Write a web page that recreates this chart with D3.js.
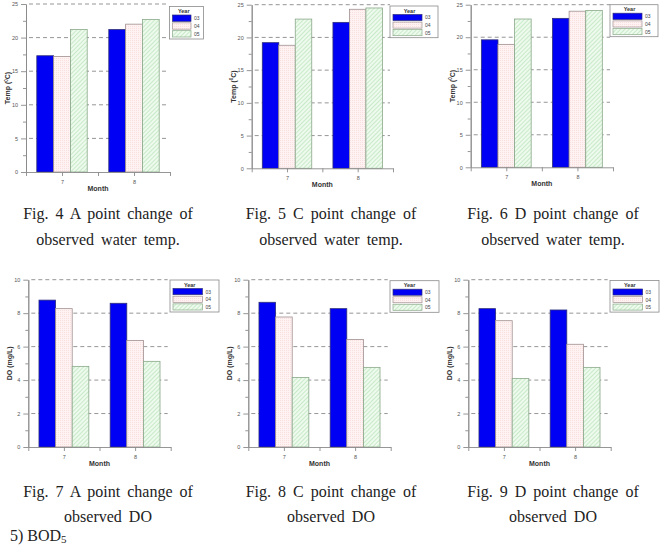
<!DOCTYPE html>
<html>
<head>
<meta charset="utf-8">
<script src="https://cdn.jsdelivr.net/npm/d3@7"></script>
<style>
  body { margin: 0; background: #fff; }
  svg { display: block; }
  .tick text { fill: #555; font-family: "Liberation Sans", Arial, sans-serif; }
  .cap { font-family: "Liberation Serif", "Times New Roman", serif; font-size: 16px; fill: #222; }
</style>
</head>
<body>
<div id="chart"></div>
<script>
// data (month 7 and 8, years 03/04/05)
var months = [7, 8]
var years = ["03", "04", "05"]

var tempA = [[17.3, 17.2, 21.2], [21.2, 22.0, 22.7]]
var tempC = [[19.2, 18.8, 22.8], [22.3, 24.3, 24.5]]
var tempD = [[19.6, 18.9, 22.8], [22.9, 24.0, 24.1]]

var doA = [[8.78, 8.27, 4.82], [8.59, 6.37, 5.12]]
var doC = [[8.65, 7.77, 4.16], [8.27, 6.43, 4.76]]
var doD = [[8.27, 7.55, 4.10], [8.19, 6.14, 4.76]]

var tempTicks = [0, 5, 10, 15, 20, 25]
var doTicks = [0, 2, 4, 6, 8, 10]
var monthTicks = [6.5, 7, 7.5, 8, 8.5]

var captionTop = ["Fig. 4 A point change of", "Fig. 5 C point change of", "Fig. 6 D point change of"]
var captionTop2 = ["observed water temp.", "observed water temp.", "observed water temp."]
var captionBot = ["Fig. 7 A point change of", "Fig. 8 C point change of", "Fig. 9 D point change of"]
var captionBot2 = ["observed DO", "observed DO", "observed DO"]

var svg = d3.select("#chart")
    .append("svg")
    .attr("width", 661)
    .attr("height", 546)

// hatch patterns for 04 and 05
var defs = svg.append("defs")
var p4 = defs.append("pattern").attr("id", "hatch04")
    .attr("width", 2).attr("height", 2).attr("patternUnits", "userSpaceOnUse")
p4.append("rect").attr("width", 2).attr("height", 2).attr("fill", "#fff2f2")
p4.append("rect").attr("width", 0.5).attr("height", 1).attr("fill", "#f6cccc")

var p5 = defs.append("pattern").attr("id", "hatch05")
    .attr("width", 3).attr("height", 3).attr("patternUnits", "userSpaceOnUse")
    .attr("patternTransform", "rotate(45)")
p5.append("rect").attr("width", 3).attr("height", 3).attr("fill", "#edfaed")
p5.append("rect").attr("width", 0.6).attr("height", 3).attr("fill", "#b2e0b2")

var fills = ["#0000f4", "url(#hatch04)", "url(#hatch05)"]
var strokes = ["#30307a", "#a09090", "#8aa88a"]

function drawPanel(p) {
    var g = svg.append("g")

    var x = d3.scaleLinear().domain([6.5, 8.5]).range([p.left, p.right])
    var y = d3.scaleLinear().domain([0, p.ticks[p.ticks.length - 1]]).range([p.bottom, p.top])
    var step = p.ticks[1] - p.ticks[0]

    // dashed grid
    g.selectAll(".grid")
        .data(p.ticks.filter(d => d > 0))
        .enter()
        .append("line")
        .attr("x1", p.left + 3)
        .attr("x2", p.right - 3)
        .attr("y1", d => y(d))
        .attr("y2", d => y(d))
        .style("stroke", "#8a8a8a")
        .style("stroke-width", 0.9)
        .style("stroke-dasharray", "4,3")

    // bars
    var bw = 0.7 / 3
    months.forEach((m, mi) => {
        p.values[mi].forEach((v, i) => {
            g.append("rect")
                .attr("x", x(m - 0.35 + i * bw))
                .attr("y", y(v))
                .attr("width", x(m - 0.35 + (i + 1) * bw) - x(m - 0.35 + i * bw))
                .attr("height", y(0) - y(v))
                .style("fill", fills[i])
                .style("stroke", strokes[i])
                .style("stroke-width", 0.8)
        })
    })

    // y axis
    g.append("g")
        .attr("transform", "translate(" + p.left + ",0)")
        .call(d3.axisLeft(y).tickValues(p.ticks).tickSize(5).tickSizeOuter(0).tickPadding(3))
    var minor = p.ticks.slice(1).map(d => d - step / 2)
    g.append("g")
        .attr("transform", "translate(" + p.left + ",0)")
        .call(d3.axisLeft(y).tickValues(minor).tickSize(3).tickSizeOuter(0).tickFormat(""))

    // x axis
    g.append("g")
        .attr("transform", "translate(0," + p.bottom + ")")
        .call(d3.axisBottom(x).tickValues(monthTicks).tickSize(4).tickSizeOuter(0).tickPadding(4)
            .tickFormat(d => d % 1 === 0 ? d : ""))

    g.selectAll(".domain, .tick line").style("stroke", "#8a8a8a").style("stroke-width", 0.9)
    g.selectAll(".tick text").style("font-size", "5.5px")

    // axis titles
    g.append("text")
        .attr("x", x(7.5))
        .attr("y", p.bottom + 19)
        .attr("text-anchor", "middle")
        .style("font-family", "Liberation Sans, Arial, sans-serif")
        .style("font-weight", "bold")
        .style("font-size", "7px")
        .style("fill", "#333")
        .text("Month")

    var yl = g.append("text")
        .attr("transform", "translate(" + (p.left - 16) + "," + ((p.top + p.bottom) / 2) + ") rotate(-90)")
        .attr("text-anchor", "middle")
        .style("font-family", "Liberation Sans, Arial, sans-serif")
        .style("font-weight", "bold")
        .style("font-size", "7px")
        .style("fill", "#333")
    if (p.kind === "temp") {
        yl.append("tspan").text("Temp (")
        yl.append("tspan").attr("dy", -2.5).style("font-size", "4.5px").text("0")
        yl.append("tspan").attr("dy", 2.5).text("C)")
    } else {
        yl.text("DO (mg/L)")
    }

    // legend
    var L = p.legend
    g.append("rect")
        .attr("x", L.x).attr("y", L.y)
        .attr("width", L.w).attr("height", L.h)
        .style("fill", "#fff")
        .style("stroke", "#8a8a8a")
        .style("stroke-width", 0.8)
    g.append("text")
        .attr("x", L.x + 3 + L.sw / 2 + 2)
        .attr("y", L.y + 6.5)
        .attr("text-anchor", "middle")
        .style("font-family", "Liberation Sans, Arial, sans-serif")
        .style("font-weight", "bold")
        .style("font-size", "5.5px")
        .style("fill", "#333")
        .text("Year")
    var pitch = (L.h - 9) / 3
    years.forEach((yr, i) => {
        g.append("rect")
            .attr("x", L.x + 3)
            .attr("y", L.y + 8.5 + i * pitch)
            .attr("width", L.sw)
            .attr("height", pitch - 1.5)
            .style("fill", fills[i])
            .style("stroke", strokes[i])
            .style("stroke-width", 0.7)
        g.append("text")
            .attr("x", L.x + 3 + L.sw + 3)
            .attr("y", L.y + 8.5 + i * pitch + pitch / 2 + 1.2)
            .style("font-family", "Liberation Sans, Arial, sans-serif")
            .style("font-size", "5px")
            .style("fill", "#444")
            .text(yr)
    })
}

drawPanel({ kind: "temp", values: tempA, ticks: tempTicks, left: 26, right: 170, top: 4, bottom: 172,
    legend: { x: 169.5, y: 6.5, w: 34, h: 32.5, sw: 18.5 } })
drawPanel({ kind: "temp", values: tempC, ticks: tempTicks, left: 251.7, right: 393, top: 4.7, bottom: 168.3,
    legend: { x: 390, y: 6, w: 48, h: 31.7, sw: 29 } })
drawPanel({ kind: "temp", values: tempD, ticks: tempTicks, left: 470.7, right: 613, top: 4.7, bottom: 167.3,
    legend: { x: 610, y: 4.7, w: 48, h: 32, sw: 29 } })

drawPanel({ kind: "do", values: doA, ticks: doTicks, left: 28.3, right: 170.7, top: 279.7, bottom: 447,
    legend: { x: 170, y: 280, w: 49, h: 32, sw: 29.4 } })
drawPanel({ kind: "do", values: doC, ticks: doTicks, left: 248.3, right: 390.7, top: 279.7, bottom: 447,
    legend: { x: 390, y: 280.7, w: 49, h: 31.6, sw: 29 } })
drawPanel({ kind: "do", values: doD, ticks: doTicks, left: 468.3, right: 610.7, top: 279.7, bottom: 447,
    legend: { x: 610, y: 280.5, w: 49, h: 31.6, sw: 29.6 } })

// captions
var capX = [108, 331, 553]
function caption(lines, yy) {
    svg.selectAll(null)
        .data(lines)
        .enter()
        .append("text")
        .attr("class", "cap")
        .attr("x", (d, i) => capX[i])
        .attr("y", yy)
        .attr("text-anchor", "middle")
        .style("word-spacing", "3px")
        .text(d => d)
}
caption(captionTop, 219)
caption(captionTop2, 245)
caption(captionBot, 497)
caption(captionBot2, 522)

var bod = svg.append("text").attr("class", "cap").attr("x", 10).attr("y", 541)
bod.append("tspan").text("5)  BOD")
bod.append("tspan").attr("dy", 2).style("font-size", "11px").text("5")
</script>
</body>
</html>
